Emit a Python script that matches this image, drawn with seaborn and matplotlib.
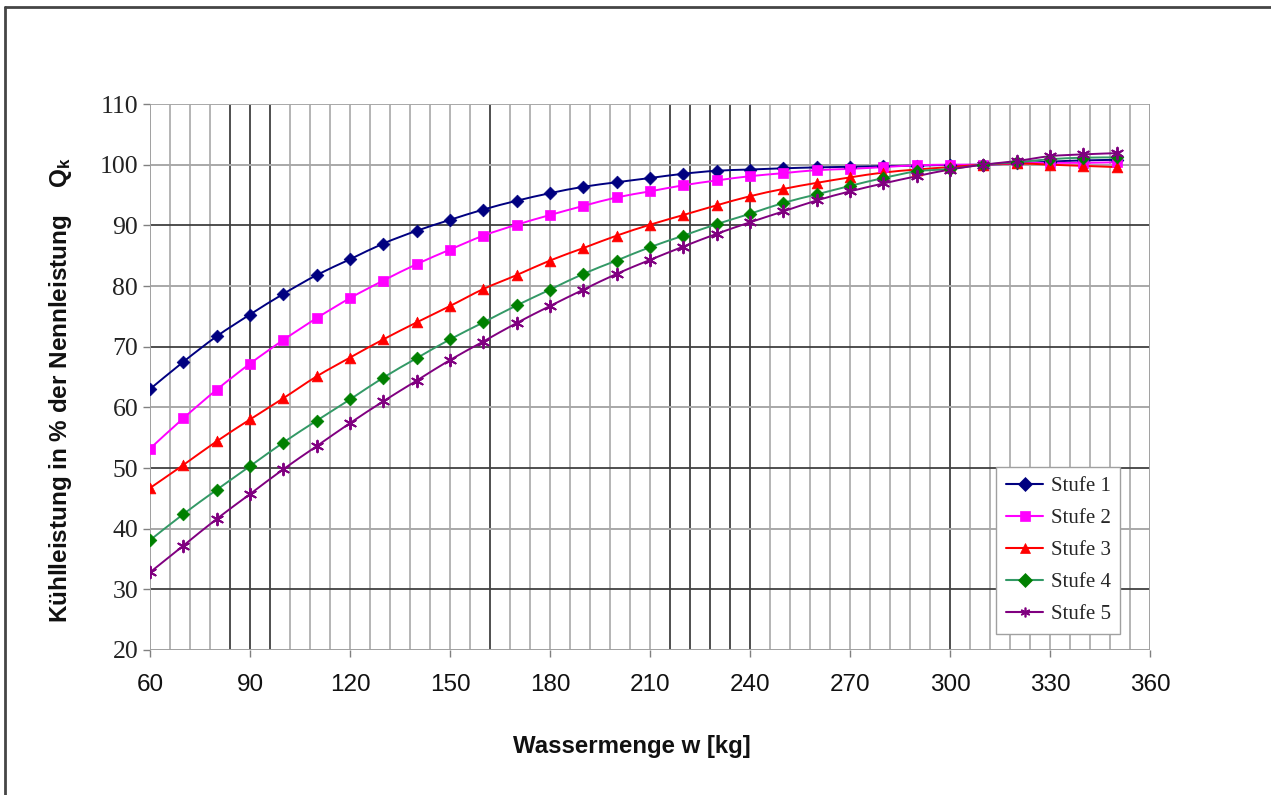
import numpy as np
import pandas as pd
import matplotlib
matplotlib.use("Agg")
import matplotlib.pyplot as plt
from matplotlib.path import Path
from matplotlib.patches import PathPatch
from matplotlib.lines import Line2D
import seaborn as sns

# ---------------- data ----------------
wasser = [60, 70, 80, 90, 100, 110, 120, 130, 140, 150, 160, 170, 180, 190, 200,
          210, 220, 230, 240, 250, 260, 270, 280, 290, 300, 310, 320, 330, 340, 350]

stufe1 = [63.0, 67.5, 71.7, 75.3, 78.7, 81.8, 84.4, 87.0, 89.1, 90.9, 92.6, 94.05, 95.3, 96.35, 97.1,
          97.8, 98.5, 99.0, 99.2, 99.4, 99.55, 99.65, 99.75, 99.85, 99.95, 100.0, 100.2, 100.5, 100.7, 100.8]
stufe2 = [53.2, 58.2, 62.9, 67.2, 71.1, 74.7, 78.0, 80.9, 83.6, 86.0, 88.3, 90.1, 91.7, 93.2, 94.6,
          95.6, 96.6, 97.4, 98.1, 98.6, 99.1, 99.3, 99.6, 99.9, 100.0, 100.0, 100.2, 100.3, 100.3, 100.4]
stufe3 = [46.7, 50.5, 54.4, 58.0, 61.5, 65.1, 68.2, 71.2, 74.0, 76.7, 79.5, 81.8, 84.2, 86.25, 88.3,
          90.1, 91.7, 93.3, 94.8, 96.0, 97.0, 97.9, 98.7, 99.2, 99.6, 100.0, 100.2, 100.0, 99.8, 99.6]
stufe4 = [38.1, 42.4, 46.4, 50.3, 54.2, 57.8, 61.3, 64.9, 68.1, 71.2, 74.0, 76.8, 79.4, 82.0, 84.2,
          86.4, 88.3, 90.2, 91.9, 93.7, 95.1, 96.5, 97.8, 98.9, 99.3, 100.0, 100.4, 100.9, 101.15, 101.2]
stufe5 = [32.8, 37.2, 41.6, 45.7, 49.8, 53.6, 57.4, 61.0, 64.4, 67.8, 70.85, 73.9, 76.7, 79.4, 82.0,
          84.3, 86.5, 88.6, 90.5, 92.3, 94.1, 95.6, 96.9, 98.1, 99.2, 100.0, 100.6, 101.4, 101.7, 101.9]

labels = ["Stufe 1", "Stufe 2", "Stufe 3", "Stufe 4", "Stufe 5"]
series = [stufe1, stufe2, stufe3, stufe4, stufe5]

x_ticks = [60, 90, 120, 150, 180, 210, 240, 270, 300, 330, 360]
y_ticks = [20, 30, 40, 50, 60, 70, 80, 90, 100, 110]

# ---------------- styles ----------------
line_colors = ["#000080", "#FF00FF", "#FF0000", "#339966", "#800080"]
marker_colors = ["#000080", "#FF00FF", "#FF0000", "#008000", "#800080"]
markers = ["D", "s", "^", "D", (6, 2, 0)]
msizes = [42, 55, 60, 42, 70]

sns.set_theme(style="white")
plt.rcParams["font.family"] = ["Liberation Sans", "DejaVu Sans"]
plt.rcParams["mathtext.fontset"] = "custom"
plt.rcParams["mathtext.rm"] = "Liberation Sans:bold"
plt.rcParams["mathtext.bf"] = "Liberation Sans:bold"
plt.rcParams["mathtext.it"] = "Liberation Sans:bold"

fig = plt.figure(figsize=(12.71, 7.95), dpi=100)
fig.patch.set_facecolor("white")
ax = fig.add_axes([150 / 1271, 1 - 650 / 795, 1000 / 1271, 546 / 795])

# outer frame (top + left edges)
fig.add_artist(Line2D([5 / 1271, 5 / 1271], [0, 1 - 6.5 / 795], transform=fig.transFigure,
                      color="#454545", lw=2.0))
fig.add_artist(Line2D([5 / 1271, 1.0], [1 - 6.5 / 795, 1 - 6.5 / 795], transform=fig.transFigure,
                      color="#454545", lw=2.0))

ax.set_xlim(60, 360)
ax.set_ylim(20, 110)

# grid
dark_v = [84, 90, 96, 162, 216, 222, 228, 234, 240, 300]
for gx in range(66, 360, 6):
    dark = gx in dark_v
    ax.axvline(gx, color="#404040" if dark else "#a8a8a8", lw=1.3 if dark else 1.2, zorder=0.5)
for gy in range(30, 111, 10):
    dark = gy in (30, 50, 70, 90)
    ax.axhline(gy, color="#404040" if dark else "#a8a8a8", lw=1.3 if dark else 1.4, zorder=0.5)
ax.axvline(60, color="#a0a0a0", lw=1.4, zorder=0.6)
ax.axvline(360, color="#a0a0a0", lw=1.4, zorder=0.6)
ax.axhline(20, color="#a0a0a0", lw=1.4, zorder=0.6)

for sp in ax.spines.values():
    sp.set_visible(False)


def smooth_path(xs, ys):
    P = np.column_stack([xs, ys]).astype(float)
    n = len(P)
    verts = [P[0]]
    codes = [Path.MOVETO]
    for i in range(n - 1):
        p_prev = P[i - 1] if i > 0 else P[i]
        p_next2 = P[i + 2] if i + 2 < n else P[i + 1]
        c1 = P[i] + (P[i + 1] - p_prev) / 6.0
        c2 = P[i + 1] - (p_next2 - P[i]) / 6.0
        verts += [c1, c2, P[i + 1]]
        codes += [Path.CURVE4] * 3
    return Path(verts, codes)


handles = []
for lab, ys, lc, mc, mk, ms in zip(labels, series, line_colors, marker_colors, markers, msizes):
    df = pd.DataFrame({"w": wasser, "q": ys})
    ax.add_patch(PathPatch(smooth_path(df["w"], df["q"]), facecolor="none", edgecolor=lc,
                           lw=1.4, zorder=3))
    if isinstance(mk, tuple):
        sns.scatterplot(data=df, x="w", y="q", marker=mk, s=ms, color=mc, linewidth=1.4,
                        ax=ax, zorder=4, legend=False)
    else:
        sns.scatterplot(data=df, x="w", y="q", marker=mk, s=ms, color=mc, edgecolor=mc,
                        linewidth=0.5, ax=ax, zorder=4, legend=False)
    handles.append(Line2D([0], [0], color=lc, lw=1.5, marker=mk, markersize=7,
                          markerfacecolor=mc, markeredgecolor=mc,
                          markeredgewidth=1.2 if isinstance(mk, tuple) else 0.5))

ax.set_xticks(x_ticks)
ax.set_yticks(y_ticks)
ax.set_xticklabels([str(v) for v in x_ticks], fontsize=17.5, fontfamily="Liberation Sans",
                   color="#111111")
ax.set_yticklabels([str(v) for v in y_ticks], fontsize=18.5, fontfamily="Liberation Serif",
                   color="#222222")
ax.tick_params(axis="x", direction="out", length=5, width=1, color="#808080", pad=12, bottom=True)
ax.tick_params(axis="y", direction="out", length=5, width=1, color="#808080", pad=3.5, left=True)
ax.set_xlabel("")
ax.set_ylabel("")

fig.text(632 / 1271, 1 - 747 / 795, "Wassermenge w [kg]", ha="center", va="center",
         fontsize=17.3, fontweight="bold", color="#111111")
fig.text(60 / 1271, 1 - 390 / 795, "Kühlleistung in % der Nennleistung    Q$_k$",
         rotation=90, ha="center", va="center", fontsize=17.5, fontweight="bold", color="#111111")

leg = ax.legend(handles, labels, loc="upper right", bbox_to_anchor=(0.97, 0.335),
                prop={"family": "Liberation Serif", "size": 15}, frameon=True, fancybox=False,
                handlelength=1.8, labelspacing=0.6, borderpad=0.45, handletextpad=0.35,
                borderaxespad=0.0)
leg.get_frame().set_edgecolor("#a0a0a0")
leg.get_frame().set_linewidth(1.0)
leg.get_frame().set_facecolor("white")
leg.get_frame().set_alpha(1.0)
leg.set_zorder(10)

fig.savefig("out.png", dpi=100, facecolor="white")
